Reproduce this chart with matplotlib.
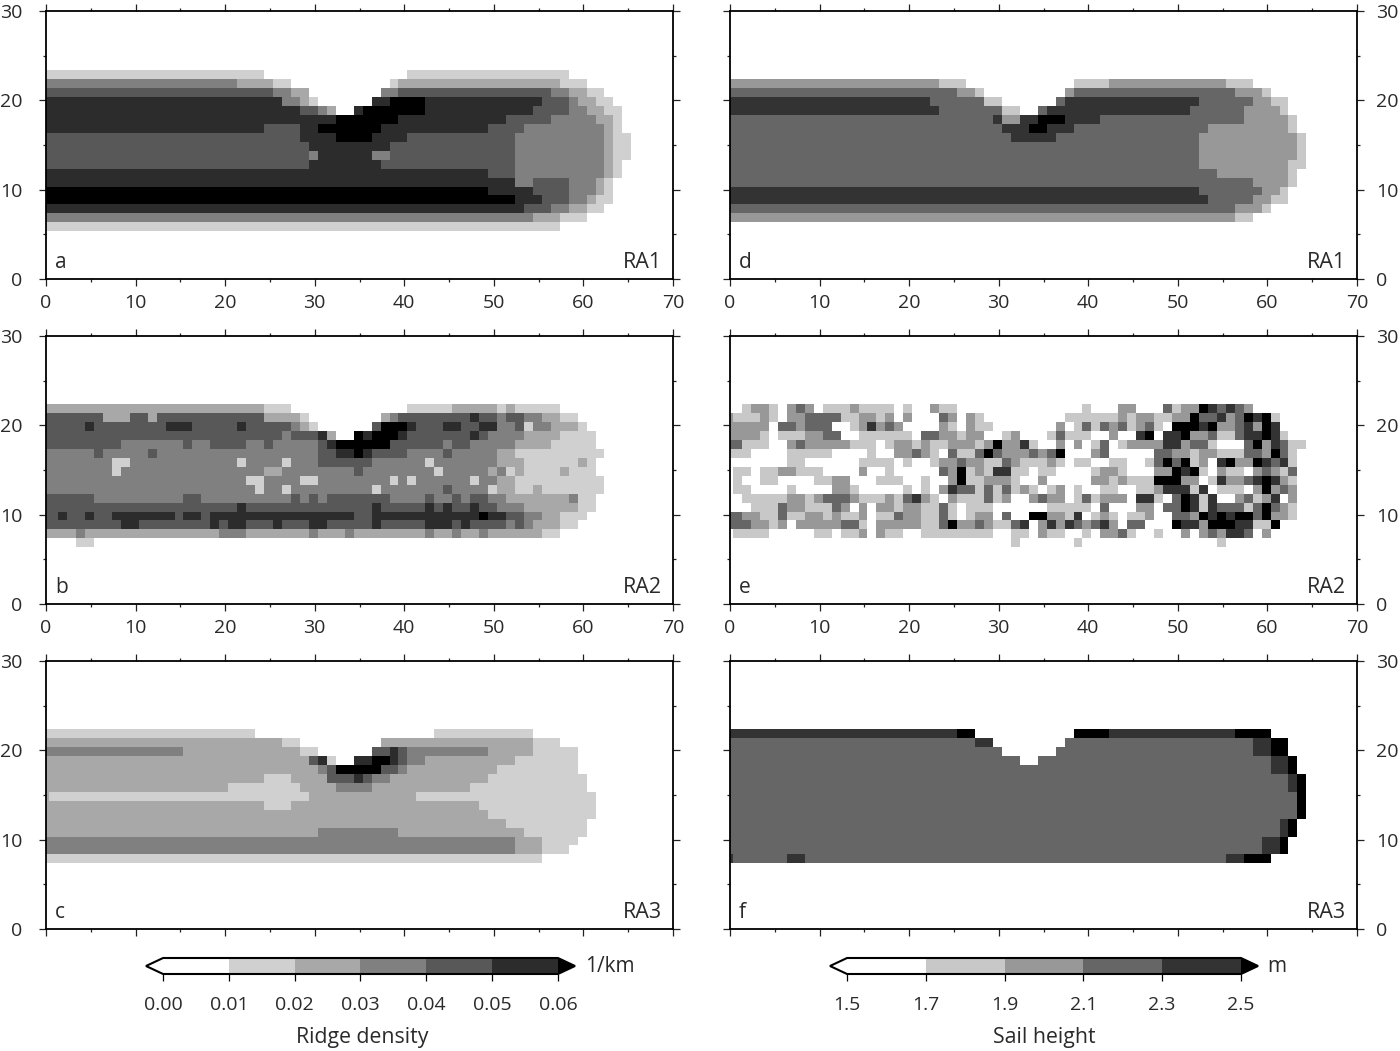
import numpy as np
import matplotlib
matplotlib.use('Agg')
import matplotlib.pyplot as plt
from matplotlib.cm import ScalarMappable
from matplotlib.colors import BoundaryNorm, ListedColormap

plt.rcParams['font.family'] = ['Open Sans', 'DejaVu Sans']

# each row is "level:last column of the run", top row first
rows_a = [
    "1:24 0:40 1:58",
    "3:21 2:25 1:27 0:38 1:39 2:57 1:60",
    "4:25 3:27 2:29 0:37 3:39 4:56 3:58 2:60 1:62",
    "5:26 3:28 2:29 1:30 0:36 5:38 6:42 5:55 4:58 3:59 2:61 1:63",
    "5:28 4:30 3:31 2:32 0:34 5:35 6:42 5:54 4:58 3:60 2:62 1:64",
    "5:32 6:39 5:51 4:56 3:61 2:63 1:64",
    "5:24 4:28 5:30 6:37 5:49 4:53 3:62 2:63 1:64",
    "4:28 5:32 6:36 5:40 4:52 3:62 2:63 1:65",
    "4:29 5:38 4:52 3:62 2:63 1:65",
    "4:29 3:30 5:36 3:38 4:52 3:62 2:63 1:65",
    "4:29 5:37 4:52 3:62 2:63 1:64",
    "5:49 4:52 3:62 2:63 1:64",
    "5:52 3:54 4:58 3:61 2:62 1:63",
    "6:49 5:54 4:58 3:61 2:62 1:63",
    "6:52 5:55 4:58 3:60 2:61 1:63",
    "5:53 4:56 3:58 2:60 1:62",
    "3:54 2:57 1:60",
    "1:57",
]
rows_b = [
    "2:24 1:27 0:40 1:45 2:50 1:51 2:52 1:57",
    "4:6 2:9 4:11 2:12 4:24 2:28 1:29 0:37 2:38 3:39 4:47 5:48 4:50 3:51 4:53 3:55 2:57 1:59",
    "4:4 5:5 4:13 5:16 4:21 5:22 4:27 3:28 2:29 1:30 0:36 4:37 6:40 5:41 4:44 5:46 4:48 5:50 3:52 4:53 1:54 3:56 2:59 1:60",
    "4:26 3:27 4:30 5:31 2:32 0:34 6:35 5:36 6:39 5:40 4:47 5:48 4:49 3:53 2:57 1:61",
    "4:8 3:15 4:16 3:18 4:22 3:24 4:25 3:30 4:31 5:32 6:38 4:44 3:45 4:47 3:52 2:56 1:61",
    "3:5 4:6 3:11 4:12 3:30 4:32 5:34 6:35 5:36 4:40 3:44 4:45 3:50 2:52 1:62",
    "3:7 1:9 3:21 1:22 3:26 1:27 3:30 4:36 3:42 1:43 3:50 2:53 1:59 2:60 1:61",
    "3:7 1:8 3:24 2:26 3:34 4:35 3:43 1:44 3:49 2:50 3:51 1:52 2:53 1:57 2:58 1:61",
    "3:22 1:24 3:28 1:30 3:38 1:39 3:40 1:41 3:47 1:48 3:50 2:52 1:62",
    "3:23 1:24 3:26 1:27 3:36 1:37 3:44 4:45 3:49 1:50 2:52 1:54 2:55 1:62",
    "4:5 3:15 4:17 3:27 4:28 3:29 4:30 3:31 4:38 3:42 4:43 3:45 4:46 3:47 4:49 3:51 2:58 3:59 1:61",
    "4:21 5:22 4:36 5:37 4:42 5:43 4:44 5:45 4:47 5:48 4:50 3:53 2:59 1:61",
    "4:1 5:2 4:4 5:5 4:7 5:14 4:15 5:17 4:18 5:34 4:36 5:48 6:49 5:51 4:53 3:55 2:57 1:60",
    "4:8 5:10 4:18 5:19 4:20 5:22 4:25 5:26 4:29 5:31 4:36 5:37 4:42 5:45 4:46 5:47 4:51 3:52 4:53 3:54 2:57 1:59",
    "2:3 3:4 2:19 3:22 2:29 3:30 2:33 3:34 2:42 3:43 2:45 3:46 2:48 3:49 2:55 1:57",
    "0:3 1:5",
]
rows_c = [
    "1:23 0:43 1:54",
    "2:26 1:28 0:37 2:54 1:57",
    "3:15 2:28 1:30 0:36 4:38 5:39 4:40 3:49 2:54 1:59",
    "2:29 4:30 5:31 1:32 0:34 5:36 6:38 5:39 4:40 3:42 2:52 1:59",
    "2:30 3:31 4:32 6:37 4:39 3:40 2:50 1:59",
    "2:24 1:27 2:31 4:34 5:35 4:36 3:38 2:49 1:60",
    "2:20 1:28 2:32 3:36 2:47 1:60",
    "2:0 1:29 2:41 1:61",
    "2:24 1:27 2:48 1:61",
    "2:49 1:61",
    "2:51 1:60",
    "2:30 3:39 2:53 1:60",
    "3:52 2:55 1:59",
    "3:52 2:55 1:58",
    "1:55",
]
rows_d = [
    "2:23 1:26 0:38 1:42 2:55 1:58",
    "3:25 2:27 1:28 0:37 2:38 3:56 2:59 1:60",
    "4:22 3:28 1:30 0:36 3:37 4:52 3:58 2:60 1:62",
    "4:23 3:30 1:32 0:34 3:35 4:51 3:57 2:61 1:62",
    "3:29 4:30 2:32 4:34 5:37 4:41 3:57 2:62 1:63",
    "3:30 4:33 5:35 4:38 3:53 2:62 1:63",
    "3:31 4:36 3:52 2:63 1:64",
    "3:52 2:63 1:64",
    "3:52 2:63 1:64",
    "3:52 2:62 1:64",
    "3:54 2:62 1:63",
    "3:58 2:62 1:63",
    "4:52 3:59 2:61 1:62",
    "4:53 3:58 2:60 1:62",
    "3:56 2:59 1:60",
    "2:56 1:58",
]
rows_e = [
    "0:1 1:2 2:4 1:5 0:6 2:7 3:8 2:9 0:10 1:13 2:14 1:18 0:19 1:20 0:22 2:23 1:25 0:39 1:40 0:43 2:45 0:48 3:49 1:50 2:52 5:53 4:54 3:55 4:56 3:57 2:58",
    "2:0 1:3 2:4 1:5 0:6 2:8 3:12 1:14 2:16 1:17 2:18 0:19 2:20 0:23 3:24 2:25 0:26 2:27 1:28 0:37 1:43 2:44 1:45 2:47 1:49 2:51 5:52 3:54 4:55 2:56 3:57 5:58 4:59 5:60 1:61",
    "2:4 0:5 3:7 2:8 3:11 0:13 1:14 2:15 4:16 2:17 3:18 2:19 0:23 2:24 1:25 0:26 2:27 1:29 0:36 2:37 0:38 1:39 3:40 1:41 3:42 2:43 3:44 1:45 2:46 3:47 1:48 0:49 5:52 4:53 5:54 2:56 3:57 4:58 2:59 5:60 4:61",
    "2:3 1:4 0:5 1:8 2:10 3:12 0:14 1:20 0:21 3:23 2:25 1:26 2:28 0:30 1:31 2:32 0:35 1:36 3:37 1:40 0:42 2:43 0:45 4:46 5:47 0:48 4:50 5:51 2:53 3:54 1:56 3:57 4:59 5:60 4:61 1:62",
    "3:1 1:4 0:6 2:7 3:8 2:13 1:16 0:17 1:18 2:20 1:21 2:22 1:24 2:27 1:28 2:29 5:30 2:32 4:33 1:34 0:36 2:37 0:38 2:39 0:40 1:41 3:42 0:43 1:44 2:48 4:50 2:51 3:53 1:54 0:57 3:58 5:59 2:60 4:61 3:62 1:64",
    "1:2 0:6 1:11 0:15 1:16 0:18 2:20 3:21 2:22 1:23 0:24 3:25 1:27 3:28 5:29 3:30 2:33 3:34 2:35 3:36 5:37 0:40 2:41 3:42 0:47 3:49 2:51 1:52 2:54 1:57 3:59 2:60 5:61 3:62 1:63",
    "0:6 1:8 0:14 1:18 0:19 1:20 0:22 1:23 2:25 3:26 2:28 1:30 3:31 2:32 1:35 2:36 1:37 0:38 1:40 0:42 1:44 0:46 1:47 3:48 5:49 3:50 5:51 1:52 2:53 0:54 4:55 5:56 2:58 5:59 4:60 3:61 4:62 1:63",
    "0:0 1:2 0:3 1:5 2:7 1:10 0:14 2:15 0:17 1:18 0:23 3:24 2:25 5:26 1:27 2:28 1:29 4:31 1:33 0:34 1:36 0:40 1:41 2:43 1:44 0:47 2:49 5:50 4:51 5:52 1:53 0:54 2:55 1:57 0:58 2:59 3:60 2:61 1:62 3:63",
    "0:0 1:1 0:3 1:5 0:9 1:11 2:13 0:16 1:19 0:21 1:22 0:24 2:25 5:26 1:28 2:31 1:32 0:34 2:35 0:40 2:42 1:43 2:44 1:47 5:50 2:52 0:53 1:54 4:55 2:57 3:58 4:59 5:60 4:61 2:62 1:63",
    "0:0 1:2 0:6 1:7 0:11 2:13 1:14 0:19 1:20 0:21 1:22 0:23 2:24 4:25 3:27 1:28 3:29 1:30 3:31 1:32 2:33 1:34 0:35 1:36 2:37 0:38 1:39 0:41 1:43 0:45 1:47 2:48 4:51 1:52 4:53 0:54 1:57 0:58 2:59 5:60 2:61 3:62 2:63",
    "0:1 1:6 2:8 1:9 2:10 3:13 2:14 1:17 2:18 1:19 3:20 4:21 2:22 1:23 0:24 2:25 1:28 3:29 1:30 2:31 0:33 2:34 3:35 2:37 0:38 1:39 3:40 1:41 2:44 0:45 4:47 1:48 0:49 3:50 5:51 4:52 1:53 4:54 0:56 2:57 3:58 1:59 2:60 4:61 0:62 2:63",
    "0:2 1:5 3:6 2:8 1:11 3:12 2:13 0:14 2:15 0:16 2:18 1:19 2:21 1:23 3:24 1:25 0:26 1:29 0:35 1:40 0:41 3:42 0:45 2:47 0:48 3:50 5:51 4:52 1:53 4:54 3:57 1:58 3:59 5:60 3:61 2:62 1:63",
    "3:1 2:3 1:5 3:6 1:8 2:10 1:11 2:12 1:14 2:15 0:16 1:18 3:19 2:21 1:23 3:24 1:25 0:26 1:27 2:29 0:30 3:31 0:33 5:35 2:37 1:38 4:39 0:40 1:41 2:42 1:43 0:44 1:46 2:47 0:49 3:51 2:52 5:53 4:54 5:55 4:56 5:58 3:59 5:60 2:62 1:63",
    "3:2 2:4 1:5 2:6 0:7 2:12 3:14 1:15 0:16 2:21 1:23 3:24 5:25 2:27 3:28 2:29 1:31 3:32 4:33 0:34 2:35 4:36 2:37 4:38 3:39 2:40 3:41 4:42 2:43 0:44 3:46 0:49 5:50 4:52 2:53 5:56 4:58 1:60 5:61",
    "0:0 1:4 0:9 1:11 0:12 1:14 2:15 0:16 2:17 1:19 0:21 1:29 0:31 1:33 0:34 2:35 1:37 0:39 1:40 0:41 2:43 3:44 1:45 0:47 1:48 0:50 2:51 0:52 2:53 3:54 2:55 4:57 3:58 0:59 2:60",
    "0:31 1:32 0:38 1:39 0:54 1:55",
]
rows_f = [
    "4:25 5:27 0:38 5:42 4:56 5:60",
    "3:27 4:29 0:37 3:58 4:60 5:62",
    "3:30 0:36 3:58 4:60 5:62",
    "3:32 0:34 3:60 4:62 5:63",
    "3:60 4:62 5:63",
    "3:62 4:63 5:64",
    "3:62 4:63 5:64",
    "3:63 5:64",
    "3:63 5:64",
    "3:63 5:64",
    "3:61 4:62 5:63",
    "3:61 4:62 5:63",
    "3:59 4:61 5:62",
    "3:59 4:61 5:62",
    "4:0 3:6 4:8 3:55 4:57 5:60",
]

ridge_colors = ['#ffffff', '#d0d0d0', '#a8a8a8', '#808080', '#585858', '#2c2c2c', '#000000']
sail_colors = ['#ffffff', '#c8c8c8', '#989898', '#666666', '#333333', '#000000']
ridge_bounds = [0.00, 0.01, 0.02, 0.03, 0.04, 0.05, 0.06]
sail_bounds = [1.5, 1.7, 1.9, 2.1, 2.3, 2.5]

W, H = 1400, 1051
COLS = [46, 730]
TOPS = [11, 336, 661]
AX_W, AX_H = 627, 268

panels = [
    (0, 0, rows_a, 23, ridge_colors, 'a', 'RA1'),
    (0, 1, rows_b, 22, ridge_colors, 'b', 'RA2'),
    (0, 2, rows_c, 22, ridge_colors, 'c', 'RA3'),
    (1, 0, rows_d, 22, sail_colors, 'd', 'RA1'),
    (1, 1, rows_e, 22, sail_colors, 'e', 'RA2'),
    (1, 2, rows_f, 22, sail_colors, 'f', 'RA3'),
]

TEXT = '#2a2a2a'
FS = 14


def to_grid(rows, top):
    grid = np.zeros((31, 71), dtype=int)
    for i, row in enumerate(rows):
        k = 0
        for run in row.split():
            level, last = run.split(':')
            grid[top - i, k:int(last) + 1] = int(level)
            k = int(last) + 1
    return grid


def px_axes(x, y, w, h):
    return fig.add_axes([x / W, 1 - (y + h) / H, w / W, h / H])


fig = plt.figure(figsize=(14, 10.51), dpi=100)

# grid nodes sit slightly right of the cell centres in the source image
x_edges = np.arange(72) - 0.65
y_edges = np.arange(32) - 0.65

for col, row, rows, top, colors, letter, name in panels:
    ax = px_axes(COLS[col], TOPS[row], AX_W, AX_H)
    grid = to_grid(rows, top)
    ax.pcolormesh(x_edges, y_edges, grid, cmap=ListedColormap(colors),
                  vmin=-0.5, vmax=len(colors) - 0.5)
    ax.set_xlim(0, 70)
    ax.set_ylim(0, 30)
    ax.set_xticks(np.arange(0, 71, 10))
    ax.set_xticks(np.arange(0, 71, 5), minor=True)
    ax.set_yticks(np.arange(0, 31, 10))
    ax.set_yticks(np.arange(0, 31, 5), minor=True)
    ax.tick_params(which='major', direction='out', length=5, width=0.9, top=True, right=True,
                   labelsize=FS, labelcolor=TEXT, color='#222222')
    ax.tick_params(which='minor', direction='out', length=2.5, width=0.9, top=True, right=True,
                   color='#222222')
    ax.tick_params(axis='x', pad=6, labelbottom=row < 2)
    if col == 0:
        ax.tick_params(axis='y', pad=12, labelleft=True, labelright=False)
    else:
        ax.tick_params(axis='y', pad=9, labelleft=False, labelright=True)
    for s in ax.spines.values():
        s.set_linewidth(1.3)
    ax.text(0.0145, 0.063, letter, transform=ax.transAxes, fontsize=15, color=TEXT,
            ha='left', va='center')
    ax.text(0.983, 0.063, name, transform=ax.transAxes, fontsize=15.5, color=TEXT,
            ha='right', va='center')


def add_bar(x, width, bounds, colors, fmt, unit, unit_x, title, title_x):
    cax = px_axes(x, 958, width, 16)
    cmap = ListedColormap(colors[:len(bounds) - 1])
    cmap.set_under('#ffffff')
    cmap.set_over('#000000')
    norm = BoundaryNorm(bounds, len(bounds) - 1)
    cb = fig.colorbar(ScalarMappable(norm=norm, cmap=cmap), cax=cax, orientation='horizontal',
                      extend='both', extendfrac=17 / 393, ticks=bounds, format=fmt)
    cb.minorticks_off()
    cb.outline.set_linewidth(1.5)
    cax.tick_params(direction='out', length=5, width=0.9, pad=11, labelsize=FS,
                    labelcolor=TEXT)
    fig.text(unit_x / W, 1 - 967 / H, unit, fontsize=15, color=TEXT, ha='left', va='center')
    fig.text(title_x / W, 1 - 1038 / H, title, fontsize=15.3, color=TEXT, ha='center', va='center')


add_bar(146, 429, ridge_bounds, ridge_colors, '%.2f', '1/km', 585, 'Ridge density', 362)
add_bar(830, 428, sail_bounds, sail_colors, '%.1f', 'm', 1267, 'Sail height', 1044)

fig.savefig('out.png', dpi=100)
